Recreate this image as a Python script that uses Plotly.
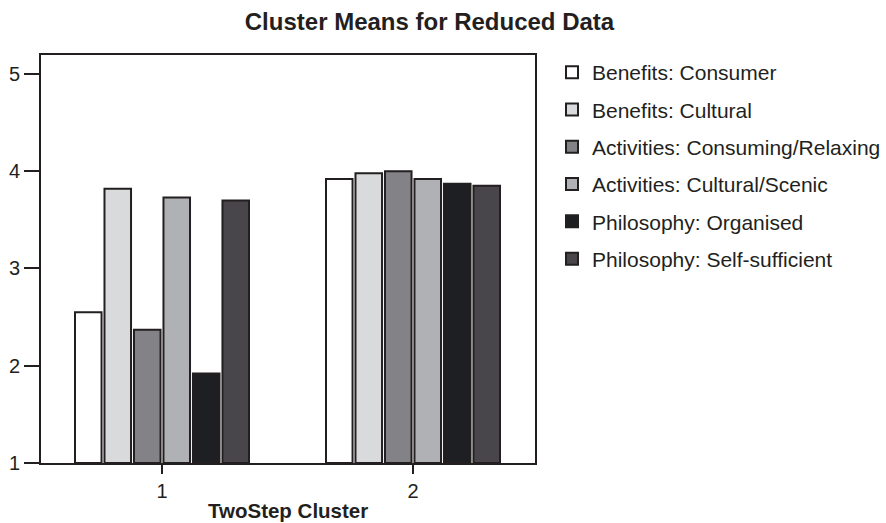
import plotly.graph_objects as go

clusters = [1, 2]
tick_labels = ["1", "2"]
series_names = [
    "Benefits: Consumer",
    "Benefits: Cultural",
    "Activities: Consuming/Relaxing",
    "Activities: Cultural/Scenic",
    "Philosophy: Organised",
    "Philosophy: Self-sufficient",
]
benefits_consumer = [2.55, 3.92]
benefits_cultural = [3.82, 3.98]
activities_consuming = [2.37, 4.00]
activities_cultural = [3.73, 3.92]
philosophy_organised = [1.92, 3.87]
philosophy_selfsufficient = [3.70, 3.85]
series_values = [
    benefits_consumer,
    benefits_cultural,
    activities_consuming,
    activities_cultural,
    philosophy_organised,
    philosophy_selfsufficient,
]
colors = ["#ffffff", "#d9dadc", "#838286", "#b0b1b4", "#1e1f22", "#48464a"]
baseline = 1

ink = "#231f20"
font_family = "Liberation Sans, Arial, sans-serif"

fig = go.Figure()
for i, (name, vals, col) in enumerate(zip(series_names, series_values, colors)):
    fig.add_trace(go.Bar(
        x=clusters, y=[v - baseline for v in vals], base=baseline,
        name=name, legendgroup=f"g{i}",
        marker=dict(color=col, line=dict(color=ink, width=2)),
        hovertext=[f"{v:.2f}" for v in vals],
    ))

W, H = 886, 523
ml, mt, mr, mb = 41, 55, 351, 60
pw = W - ml - mr
ph = H - mt - mb

fig.update_layout(
    width=W, height=H,
    paper_bgcolor="white", plot_bgcolor="white",
    margin=dict(l=ml, r=mr, t=mt, b=mb, autoexpand=False),
    barmode="group", bargap=0.295, bargroupgap=0.1,
    font=dict(family=font_family, color=ink, size=20),
    title=dict(text="<b>Cluster Means for Reduced Data</b>", x=429.5 / W, xanchor="center",
               y=1 - 22 / H, yanchor="middle", xref="container", yref="container",
               font=dict(size=24, color=ink, family=font_family)),
    showlegend=True,
    legend=dict(x=1 + 17 / pw, xanchor="left", y=1 + (mt - 52) / ph, yanchor="top",
                font=dict(size=21, color=ink, family=font_family),
                traceorder="grouped", tracegroupgap=7, bgcolor="rgba(0,0,0,0)"),
    xaxis=dict(
        range=[1 - 121 / 251, 2 + 122 / 251],
        tickmode="array", tickvals=clusters, ticktext=tick_labels,
        ticks="outside", ticklen=9, tickwidth=2, tickcolor=ink,
        showline=True, linecolor=ink, linewidth=2, mirror=True,
        showgrid=False, zeroline=False, automargin=False,
        tickfont=dict(size=20, color=ink),
    ),
    yaxis=dict(
        range=[1, 5.195],
        tickmode="array", tickvals=[1, 2, 3, 4, 5],
        ticks="outside", ticklen=15, tickwidth=2, tickcolor=ink,
        showline=True, linecolor=ink, linewidth=2, mirror=True,
        showgrid=False, zeroline=False, automargin=False,
        tickfont=dict(size=20, color=ink),
    ),
    annotations=[dict(text="<b>TwoStep Cluster</b>", xref="paper", yref="paper",
                      x=0.5, y=-(510 - (H - mb)) / ph, xanchor="center", yanchor="middle",
                      showarrow=False, font=dict(size=20.5, color=ink, family=font_family))],
)

fig.write_html(
    "out.html",
    config={"displayModeBar": False},
    post_script="document.body.style.margin='0';document.documentElement.style.overflow='hidden';document.body.style.overflow='hidden';",
)
